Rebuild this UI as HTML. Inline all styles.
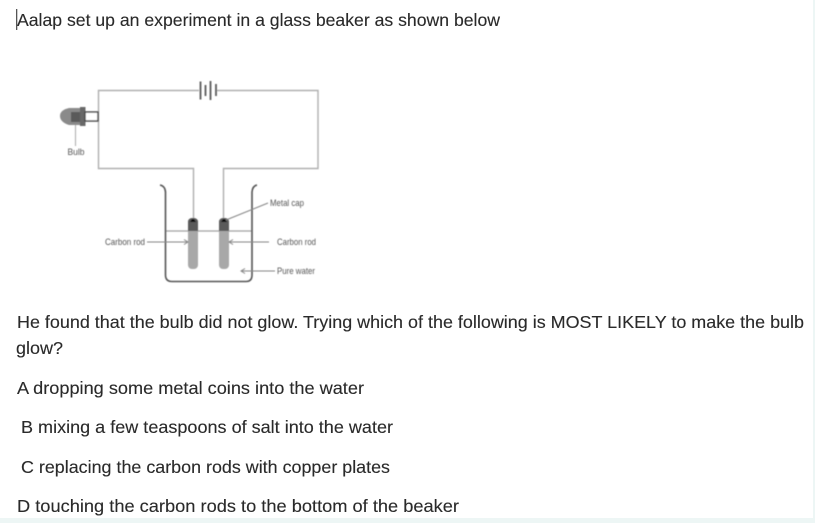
<!DOCTYPE html>
<html>
<head>
<meta charset="utf-8">
<style>
html,body{margin:0;padding:0;background:#fff;width:815px;height:523px;overflow:hidden}
svg{display:block}
.t{font-family:"Liberation Sans",sans-serif;font-size:17.5px;fill:#2a2a2a;stroke:#2a2a2a;stroke-width:0.12px}
.s{font-family:"Liberation Sans",sans-serif;font-size:9.500px;fill:#555}
</style>
</head>
<body>
<svg width="815" height="523" viewBox="0 0 815 523" xmlns="http://www.w3.org/2000/svg">
<defs><filter id="b" x="-5%" y="-5%" width="110%" height="110%"><feGaussianBlur stdDeviation="0.4"/></filter></defs>
<rect width="815" height="523" fill="#fff"/>
<rect x="813" y="0" width="2" height="523" fill="#edf6f5"/>
<rect x="0" y="518" width="815" height="5" fill="#edf6f5"/>
<rect x="16" y="9" width="1.3" height="21" fill="#555"/>

<text class="t" x="17" y="26" textLength="483" lengthAdjust="spacingAndGlyphs">Aalap set up an experiment in a glass beaker as shown below</text>
<text class="t" x="17" y="328" textLength="787" lengthAdjust="spacingAndGlyphs">He found that the bulb did not glow. Trying which of the following is MOST LIKELY to make the bulb</text>
<text class="t" x="16" y="354" textLength="47" lengthAdjust="spacingAndGlyphs">glow?</text>
<text class="t" x="17" y="394" textLength="347" lengthAdjust="spacingAndGlyphs">A dropping some metal coins into the water</text>
<text class="t" x="21" y="433" textLength="372" lengthAdjust="spacingAndGlyphs">B mixing a few teaspoons of salt into the water</text>
<text class="t" x="21" y="473" textLength="369" lengthAdjust="spacingAndGlyphs">C replacing the carbon rods with copper plates</text>
<text class="t" x="17" y="512" textLength="442" lengthAdjust="spacingAndGlyphs">D touching the carbon rods to the bottom of the beaker</text>

<g filter="url(#b)">
  <!-- wires -->
  <g fill="none" stroke="#afafaf" stroke-width="1.4">
    <path d="M199 90.500H98.500V168.500H193.500V219"/>
    <path d="M217 90.500H318V168.500H223.500V219"/>
  </g>
  <!-- battery -->
  <g stroke="#5a5a5a" fill="none" stroke-width="1.800">
    <path d="M200.500 81.500V99.500"/>
    <path d="M205.500 85V96"/>
    <path d="M210.500 81V100"/>
    <path d="M216 84V96"/>
  </g>
  <!-- bulb -->
  <path d="M81 108H69Q60 110 60 116Q60 122 69 125H81Z" fill="#8a8a8a"/>
  <rect x="71" y="112" width="10" height="10" fill="#5a5a5a"/>
  <rect x="80" y="107" width="5.500" height="19" fill="#686868"/>
  <rect x="85" y="112" width="13" height="9" fill="#fff" stroke="#4a4a4a" stroke-width="1.500"/>
  <path d="M75.500 125V146" stroke="#b0b0b0" stroke-width="1.100"/>
  <text class="s" x="67.500" y="155" textLength="17" lengthAdjust="spacingAndGlyphs">Bulb</text>

  <!-- water line -->
  <path d="M166 231H252" stroke="#a0a0a0" stroke-width="1.300"/>
  <!-- beaker -->
  <path d="M160 185Q165 186 165.500 192V275Q165.500 281.500 172 281.500H246Q252 281.500 252 275V192Q252.500 186 257 185" fill="none" stroke="#555" stroke-width="1.600"/>

  <!-- rods -->
  <rect x="188" y="218" width="10" height="51" rx="4" fill="#a8a8a8"/>
  <path d="M188 231V222Q188 218 193 218Q198 218 198 222V231Z" fill="#5a5a5a"/>
  <path d="M190 222Q193 216 196 222Z" fill="#111"/>
  <rect x="219" y="218" width="10" height="51" rx="4" fill="#a8a8a8"/>
  <path d="M219 231V222Q219 218 224 218Q229 218 229 222V231Z" fill="#5a5a5a"/>
  <path d="M221 222Q224 216 227 222Z" fill="#111"/>

  <!-- leaders -->
  <g stroke="#858585" stroke-width="1" fill="none">
    <path d="M147 242H188"/>
    <path d="M184 239.500L188 242L184 244.500"/>
    <path d="M229 242H269"/>
    <path d="M233 239.500L229 242L233 244.500"/>
    <path d="M241 271H275"/>
    <path d="M245 268.500L241 271L245 273.500"/>
    <path d="M268 203L226 220"/>
  </g>
  <text class="s" x="105" y="245" textLength="40" lengthAdjust="spacingAndGlyphs">Carbon rod</text>
  <text class="s" x="277" y="245" textLength="39" lengthAdjust="spacingAndGlyphs">Carbon rod</text>
  <text class="s" x="277" y="274" textLength="38" lengthAdjust="spacingAndGlyphs">Pure water</text>
  <text class="s" x="270" y="206" textLength="34" lengthAdjust="spacingAndGlyphs">Metal cap</text>
</g>
</svg>
</body>
</html>
